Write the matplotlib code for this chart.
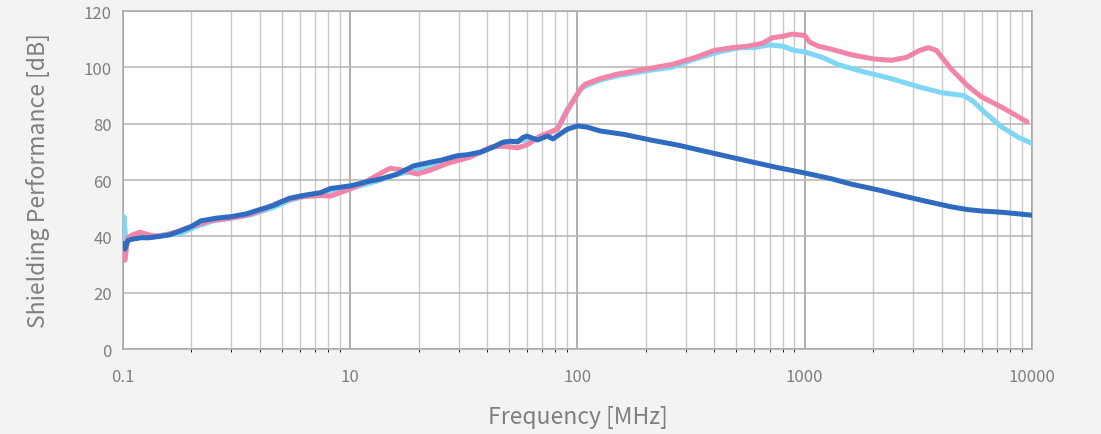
import numpy as np
import matplotlib.pyplot as plt
from matplotlib.ticker import FixedLocator, NullFormatter

# frequency points [MHz] and shielding values [dB]
freq_dark = [1.0, 1.02, 1.05, 1.1, 1.2, 1.3, 1.45, 1.6, 1.8, 2.0, 2.2, 2.6, 3.0,
             3.5, 4.0, 4.6, 5.4, 6.2, 7.4, 8.2, 10, 12, 13.5, 16, 19, 22.5, 25,
             29.5, 33, 37.4, 42, 47, 50.6, 54.5, 57.8, 60, 66.6, 73.7, 78, 90,
             100, 110, 126, 160, 210, 280, 350, 450, 580, 750, 1000, 1300, 1610,
             2100, 2660, 3400, 4400, 5200, 6000, 7500, 10000]
val_dark = [37.5, 35.5, 38.5, 39, 39.5, 39.5, 40, 40.5, 42, 43.5, 45.5, 46.5, 47,
            48, 49.5, 51, 53.5, 54.5, 55.5, 57, 57.9, 59.5, 60.3, 62, 65, 66.3, 67,
            68.6, 69, 69.9, 71.5, 73.4, 73.8, 73.5, 75.2, 75.6, 74.2, 75.6, 74.6, 78,
            79.2, 78.8, 77.4, 76.2, 74.2, 72.3, 70.5, 68.5, 66.5, 64.5, 62.5, 60.5,
            58.5, 56.5, 54.5, 52.5, 50.5, 49.5, 49, 48.5, 47.5]

freq_pink = [1.0, 1.02, 1.05, 1.1, 1.19, 1.3, 1.45, 1.7, 2.0, 2.4, 3.0, 3.5, 4.0,
             5.0, 6.0, 7.4, 8.2, 10, 11.5, 13, 15, 17, 19.7, 22.5, 27, 33.7,
             41.6, 47, 54.5, 60, 68.5, 78, 81.6, 90, 103, 108, 126, 150, 210,
             260, 330, 400, 480, 560, 650, 720, 800, 880, 950, 1000, 1050, 1150,
             1300, 1600, 2000, 2400, 2800, 3200, 3500, 3800, 4400, 5200, 6000,
             7500, 9500]
val_pink = [33, 31.5, 39.5, 40.5, 41.5, 40.5, 40, 41.5, 43.5, 45.5, 46.5, 47.5, 49,
            52.5, 54, 54.5, 54.3, 56.8, 59, 61.5, 64.2, 63.5, 62.1, 63.5, 66, 68.1,
            71.7, 72, 71.4, 72.5, 75.6, 77.4, 78, 84.5, 92.3, 94, 96, 97.6, 99.7,
            101, 103.5, 106, 107, 107.5, 108.5, 110.5, 111, 111.8, 111.5, 111.3,
            109, 107.5, 106.5, 104.5, 103, 102.5, 103.5, 106, 107, 106, 99.5, 93.5,
            89.5, 85.5, 80.7]

freq_light = [1.0, 1.01, 1.03, 1.06, 1.15, 1.3, 1.5, 1.8, 2.1, 2.5, 3.0, 3.6, 4.5,
              5.5, 7.0, 8.5, 10, 13, 16, 20, 25, 30, 37, 45, 55, 65, 75, 82,
              90, 103, 108, 126, 150, 210, 260, 330, 420, 520, 600, 700, 800,
              900, 1000, 1200, 1400, 1800, 2400, 3200, 4000, 5000, 5500, 6100,
              7300, 8700, 10000]
val_light = [38.5, 47, 38, 39.5, 40, 39.5, 40.5, 41, 43.5, 45.5, 46.5, 47.5, 50,
             53, 55, 56.5, 57, 59.5, 62, 63.5, 66, 67.5, 69.5, 72.5, 74, 74.5, 76.5,
             78.5, 85, 92, 93.3, 95.5, 97, 99, 100, 103, 105.5, 107, 107, 108, 107.5,
             106, 105.5, 103.5, 101, 98.5, 96, 93, 91, 90, 88, 84.5, 79, 75.2, 73]

tick_pos = [1, 10, 100, 1000, 10000]
tick_labels = ['0.1', '10', '100', '1000', '10000']

grey = '#7f7f7f'
plt.rcParams['font.family'] = ['Noto Sans CJK JP', 'DejaVu Sans']

fig = plt.figure(figsize=(11.01, 4.35), dpi=100)
fig.patch.set_facecolor('#f3f3f3')
ax = fig.add_axes([0.1117, 0.1954, 0.8256, 0.777])
ax.set_facecolor('white')

ax.plot(freq_light, val_light, color='#7fd6f5', lw=3.6, solid_capstyle='round', zorder=3)
ax.plot(freq_pink, val_pink, color='#f284aa', lw=3.6, solid_capstyle='round', zorder=4)
ax.plot(freq_dark, val_dark, color='#2f6bbf', lw=3.6, solid_capstyle='round', zorder=5)

ax.set_xscale('log')
ax.set_xlim(1, 10000)
ax.set_ylim(0, 120)
ax.set_yticks(np.arange(0, 121, 20))
ax.xaxis.set_major_locator(FixedLocator(tick_pos))
ax.set_xticklabels(tick_labels)
minor = [m * 10 ** d for d in range(4) for m in range(2, 10)]
ax.xaxis.set_minor_locator(FixedLocator(minor))
ax.xaxis.set_minor_formatter(NullFormatter())

ax.grid(True, which='major', axis='x', color='#9a9a9a', lw=1.1)
ax.grid(True, which='minor', axis='x', color='#c8c8c8', lw=1.0)
ax.grid(True, which='major', axis='y', color='#b4b4b4', lw=1.1)
ax.set_axisbelow(True)

ax.tick_params(length=0, labelsize=12, colors=grey, pad=14)
ax.tick_params(axis='y', pad=8)
for s in ax.spines.values():
    s.set_color('#a8a8a8')
    s.set_linewidth(1.1)

ax.set_ylabel('Shielding Performance [dB]', fontsize=16.5, color=grey, labelpad=24)
ax.set_xlabel('Frequency [MHz]', fontsize=16.5, color=grey, labelpad=14)

fig.savefig('out.png', dpi=100, facecolor=fig.get_facecolor())
